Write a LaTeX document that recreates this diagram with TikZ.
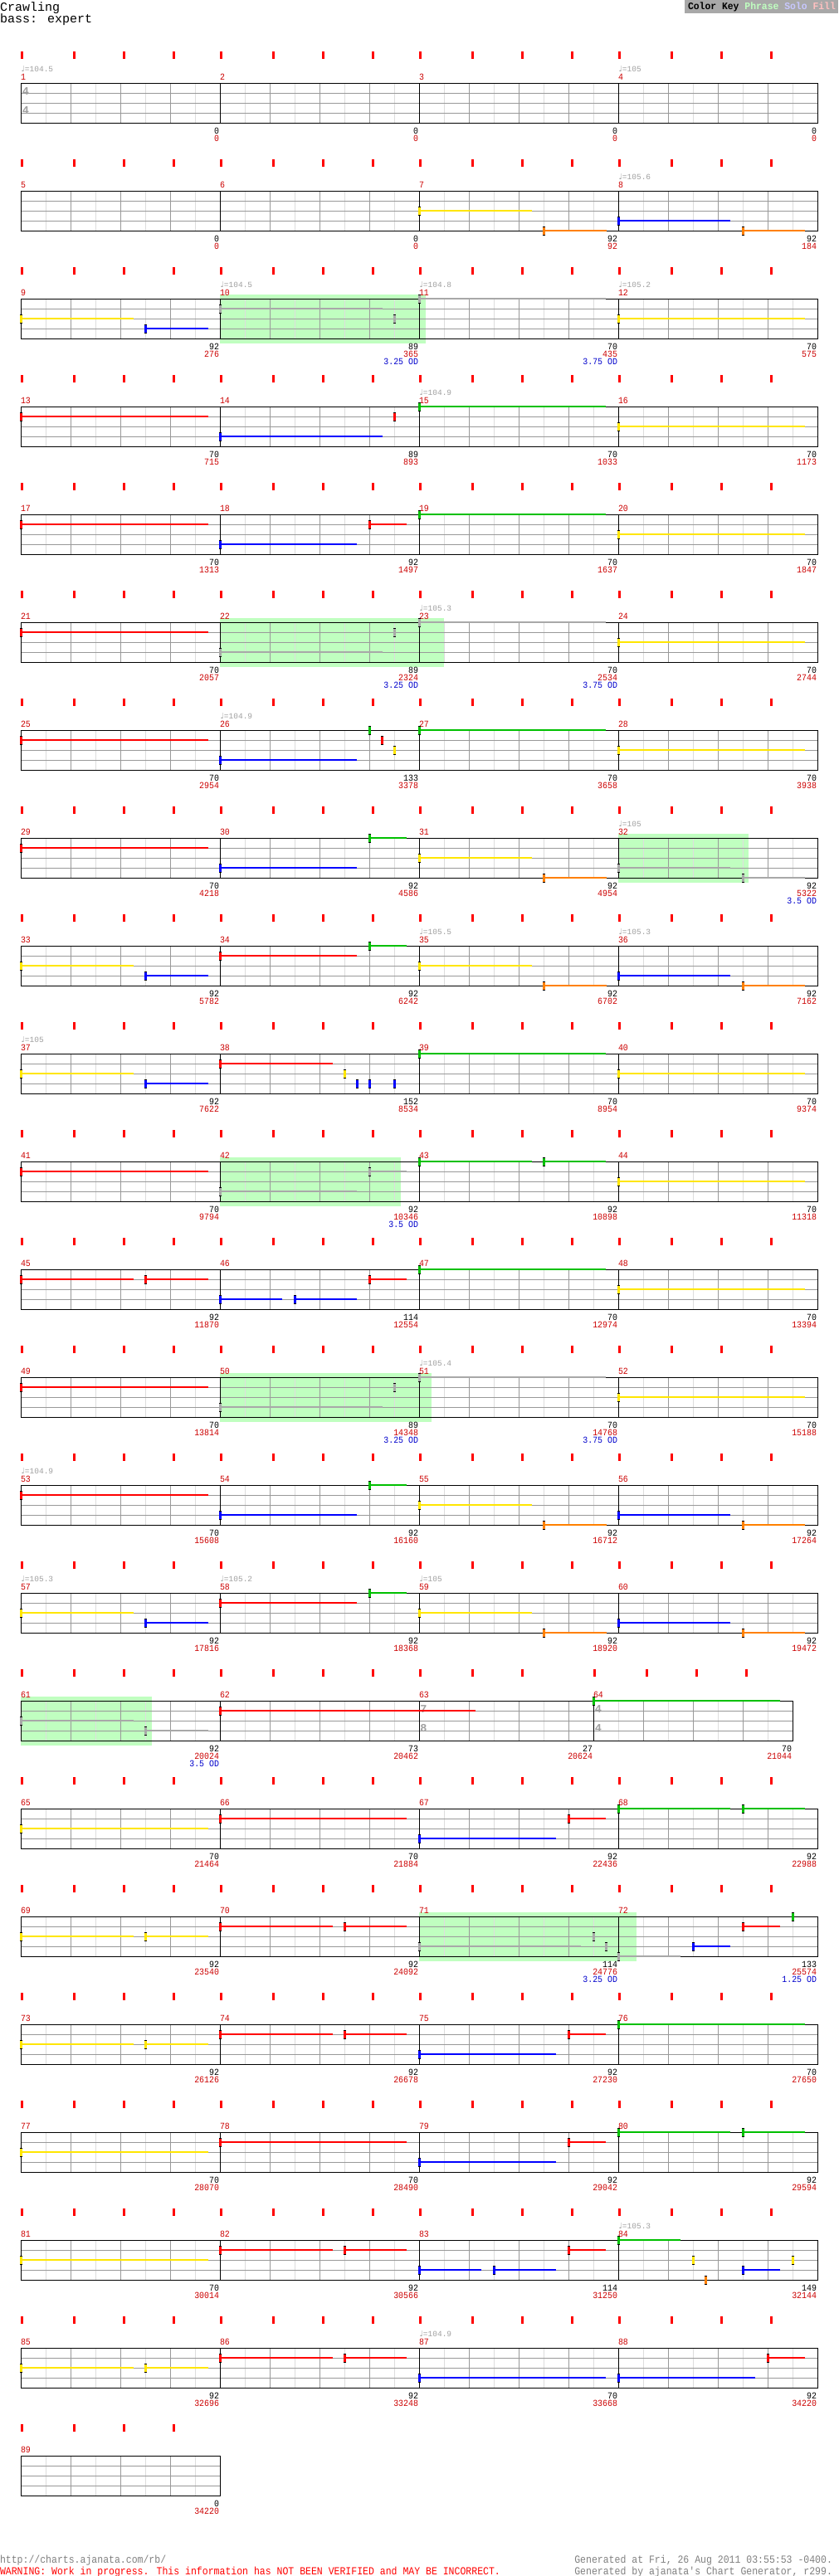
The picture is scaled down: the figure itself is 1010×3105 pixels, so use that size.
\documentclass[tikz,border=0pt]{standalone}
\usepackage{fontspec}
\setmainfont{Liberation Mono}
\newfontfamily\numfont[FakeStretch=0.9]{Liberation Mono}
\newfontfamily\tmpfont{Liberation Mono}
\newfontfamily\symfont{DejaVu Sans}
\newfontfamily\keyfont[FakeStretch=0.95]{Liberation Mono}
\newfontfamily\footfont[FakeStretch=0.885]{Liberation Mono}
\definecolor{tickred}{RGB}{255,0,0}
\definecolor{txtred}{RGB}{204,0,0}
\definecolor{txtblue}{RGB}{0,0,204}
\definecolor{tmpgrey}{RGB}{160,160,160}
\definecolor{gridmid}{RGB}{153,153,153}
\definecolor{gridlight}{RGB}{221,221,221}
\definecolor{phrasebg}{RGB}{192,255,192}
\definecolor{nG}{RGB}{0,192,0}
\definecolor{nR}{RGB}{255,0,0}
\definecolor{nY}{RGB}{255,230,0}
\definecolor{nB}{RGB}{0,0,255}
\definecolor{nO}{RGB}{255,128,0}
\definecolor{nS}{RGB}{168,168,168}
\definecolor{keybg}{RGB}{168,168,168}
\definecolor{keyph}{RGB}{192,255,192}
\definecolor{keysolo}{RGB}{200,200,255}
\definecolor{keyfill}{RGB}{255,192,192}
\definecolor{footgrey}{RGB}{128,128,128}
\tikzset{
  gl/.style={draw=gridlight,line width=1pt},
  gm/.style={draw=gridmid,line width=1pt},
  bd/.style={draw=black,line width=1pt},
  mnum/.style={anchor=base west,text=txtred,font=\numfont\fontsize{11}{11}\selectfont},
  bnum/.style={anchor=base east,text=black,font=\numfont\fontsize{11}{11}\selectfont},
  rnum/.style={anchor=base east,text=txtred,font=\numfont\fontsize{11}{11}\selectfont},
  onum/.style={anchor=base east,text=txtblue,font=\numfont\fontsize{11}{11}\selectfont},
  tempo/.style={anchor=base west,text=tmpgrey,font=\tmpfont\fontsize{9.5}{9.5}\selectfont},
  tsig/.style={text=tmpgrey,font=\tmpfont\bfseries\fontsize{13.5}{13.5}\selectfont},
  foot/.style={font=\footfont\fontsize{13}{13}\selectfont},
}
\newcommand\mgrid[2]{%
  \foreach \gq in {30,90,150,210}{\draw[gl] (#1+\gq,#2) -- (#1+\gq,#2+48);}
  \foreach \gq in {60,120,180}{\draw[gm] (#1+\gq,#2) -- (#1+\gq,#2+48);}
  \foreach \gq in {12,24,36}{\draw[gm] (#1,#2+\gq) -- (#1+240,#2+\gq);}
  \draw[bd] (#1,#2) rectangle (#1+240,#2+48);
}
\newcommand\mtick[2]{%
  \foreach \gq in {0,63,123,183}{\fill[tickred] (#1+\gq,#2-38) rectangle (#1+\gq+2.5,#2-29.5);}
}
\newcommand\nt[6]{%
  \pgfmathsetmacro\nx{25+240*#2+#3}%
  \pgfmathsetmacro\ny{100+130*#1+12*#5}%
  \pgfmathsetmacro\ne{25+240*#2+#4}%
  \draw[line width=2.6pt,#6] (\nx,\ny) -- (\ne,\ny);%
  \fill[black] (\nx-1,\ny-5.5) rectangle (\nx+2,\ny+5.5);%
  \fill[#6] (\nx-1,\ny-4.5) rectangle (\nx+2,\ny+4.5);%
}
\newcommand\hd[5]{%
  \pgfmathsetmacro\nx{25+240*#2+#3}%
  \pgfmathsetmacro\ny{100+130*#1+12*#4}%
  \fill[black] (\nx-1,\ny-5.5) rectangle (\nx+2,\ny+5.5);%
  \fill[#5] (\nx-1,\ny-4.5) rectangle (\nx+2,\ny+4.5);%
}
\begin{document}
\begin{tikzpicture}[x=1pt,y=-1pt,every node/.style={inner sep=0pt,outer sep=0pt}]
\fill[white] (0,0) rectangle (1010,3105);
\useasboundingbox (0,0) rectangle (1010,3105);
% title and key
\node[anchor=base west,font=\fontsize{15}{15}\selectfont] (title) at (0,13.3) {Crawling};
\node[anchor=base west,font=\fontsize{15}{15}\selectfont] (inst) at (0,27.7) {bass: expert};
\fill[keybg] (825,0) rectangle (1010,15.7);
\node[anchor=base west,font=\keyfont\bfseries\fontsize{12}{12}\selectfont] (key) at (829,11) {Color Key \textcolor{keyph}{Phrase} \textcolor{keysolo}{Solo} \textcolor{keyfill}{Fill}};
% phrase backgrounds
\fill[phrasebg] (265,355) rectangle (513,414);
\fill[phrasebg] (265,745) rectangle (535,804);
\fill[phrasebg] (745,1005) rectangle (902,1064);
\fill[phrasebg] (265,1395) rectangle (483,1454);
\fill[phrasebg] (265,1655) rectangle (520,1714);
\fill[phrasebg] (25,2045) rectangle (183,2104);
\fill[phrasebg] (505,2305) rectangle (767,2364);
% standard measures
\foreach \m/\bv/\cv in {1/0/0,2/0/0,3/0/0,4/0/0,5/0/0,6/0/0,7/92/92,8/92/184,9/92/276,10/89/365,11/70/435,12/70/575,13/70/715,14/89/893,15/70/1033,16/70/1173,17/70/1313,18/92/1497,19/70/1637,20/70/1847,21/70/2057,22/89/2324,23/70/2534,24/70/2744,25/70/2954,26/133/3378,27/70/3658,28/70/3938,29/70/4218,30/92/4586,31/92/4954,32/92/5322,33/92/5782,34/92/6242,35/92/6702,36/92/7162,37/92/7622,38/152/8534,39/70/8954,40/70/9374,41/70/9794,42/92/10346,43/92/10898,44/70/11318,45/92/11870,46/114/12554,47/70/12974,48/70/13394,49/70/13814,50/89/14348,51/70/14768,52/70/15188,53/70/15608,54/92/16160,55/92/16712,56/92/17264,57/92/17816,58/92/18368,59/92/18920,60/92/19472,61/92/20024,62/73/20462,65/70/21464,66/70/21884,67/92/22436,68/92/22988,69/92/23540,70/92/24092,71/114/24776,72/133/25574,73/92/26126,74/92/26678,75/92/27230,76/70/27650,77/70/28070,78/70/28490,79/92/29042,80/92/29594,81/70/30014,82/92/30566,83/114/31250,84/149/32144,85/92/32696,86/92/33248,87/70/33668,88/92/34220,89/0/34220}{
  \pgfmathtruncatemacro\mrow{(\m-1)/4}
  \pgfmathtruncatemacro\mcol{mod(\m-1,4)}
  \pgfmathsetmacro\mtop{100+130*\mrow}
  \pgfmathsetmacro\mx{25+240*\mcol}
  \mgrid{\mx}{\mtop}
  \mtick{\mx}{\mtop}
  \node[mnum] (mn\m) at (\mx,\mtop-3.3) {\m};
  \node[bnum] (bn\m) at (\mx+239,\mtop+61) {\bv};
  \node[rnum] (rn\m) at (\mx+239,\mtop+70) {\cv};
}
% measure 63 (7/8) and 64
\foreach \gq in {30,90,150}{\draw[gl] (505+\gq,2050) -- (505+\gq,2098);}
\foreach \gq in {60,120,180}{\draw[gm] (505+\gq,2050) -- (505+\gq,2098);}
\foreach \gq in {12,24,36}{\draw[gm] (505,2050+\gq) -- (715,2050+\gq);}
\draw[bd] (505,2050) rectangle (715,2098);
\foreach \gq in {0,63,123}{\fill[tickred] (505+\gq,2012) rectangle (507.5+\gq,2020.5);}
\mgrid{715}{2050}
\mtick{715}{2050}
\node[mnum] (mn63) at (505,2046.7) {63};
\node[bnum] (bn63) at (714,2111) {27};
\node[rnum] (rn63) at (714,2120) {20624};
\node[mnum] (mn64) at (715,2046.7) {64};
\node[bnum] (bn64) at (954,2111) {70};
\node[rnum] (rn64) at (954,2120) {21044};
% time signatures
\node[tsig] (ts1a) at (31,110) {4};
\node[tsig] (ts1b) at (31,133.5) {4};
\node[tsig] (ts63a) at (510.5,2060) {7};
\node[tsig] (ts63b) at (510.5,2083.5) {8};
\node[tsig] (ts64a) at (721,2060) {4};
\node[tsig] (ts64b) at (721,2083.5) {4};
% overdrive labels
\foreach \m/\odv in {10/3.25,11/3.75,22/3.25,23/3.75,32/3.5,42/3.5,50/3.25,51/3.75,61/3.5,71/3.25,72/1.25}{
  \pgfmathtruncatemacro\mrow{(\m-1)/4}
  \pgfmathtruncatemacro\mcol{mod(\m-1,4)}
  \pgfmathsetmacro\mtop{100+130*\mrow}
  \pgfmathsetmacro\mx{25+240*\mcol}
  \node[onum] (od\m) at (\mx+239,\mtop+79) {\odv{} OD};
}
% tempo labels
\foreach \m/\tv in {1/104.5,4/105,8/105.6,10/104.5,11/104.8,12/105.2,15/104.9,23/105.3,26/104.9,32/105,35/105.5,36/105.3,37/105,51/105.4,53/104.9,57/105.3,58/105.2,59/105,84/105.3,87/104.9}{
  \pgfmathtruncatemacro\mrow{(\m-1)/4}
  \pgfmathtruncatemacro\mcol{mod(\m-1,4)}
  \pgfmathsetmacro\mtop{100+130*\mrow}
  \pgfmathsetmacro\mx{25+240*\mcol}
  \node[tempo] (tp\m) at (\mx+0.5,\mtop-14) {{\symfont ♩}=\tv};
}
% notes
\nt{1}{2}{0}{136}{2}{nY}
\nt{1}{2}{150}{226}{4}{nO}
\nt{1}{3}{0}{135}{3}{nB}
\nt{1}{3}{150}{225}{4}{nO}
\nt{2}{0}{0}{136}{2}{nY}
\nt{2}{0}{150}{226}{3}{nB}
\nt{2}{1}{0}{196}{1}{nS}
\hd{2}{1}{210}{2}{nS}
\nt{2}{2}{0}{225}{0}{nS}
\nt{2}{3}{0}{225}{2}{nY}
\nt{3}{0}{0}{226}{1}{nR}
\nt{3}{1}{0}{196}{3}{nB}
\hd{3}{1}{210}{1}{nR}
\nt{3}{2}{0}{225}{0}{nG}
\nt{3}{3}{0}{225}{2}{nY}
\nt{4}{0}{0}{226}{1}{nR}
\nt{4}{1}{0}{165}{3}{nB}
\nt{4}{1}{180}{225}{1}{nR}
\nt{4}{2}{0}{225}{0}{nG}
\nt{4}{3}{0}{225}{2}{nY}
\nt{5}{0}{0}{226}{1}{nR}
\nt{5}{1}{0}{196}{3}{nS}
\hd{5}{1}{210}{1}{nS}
\nt{5}{2}{0}{225}{0}{nS}
\nt{5}{3}{0}{225}{2}{nY}
\nt{6}{0}{0}{226}{1}{nR}
\nt{6}{1}{0}{165}{3}{nB}
\hd{6}{1}{180}{0}{nG}
\hd{6}{1}{195}{1}{nR}
\hd{6}{1}{210}{2}{nY}
\nt{6}{2}{0}{225}{0}{nG}
\nt{6}{3}{0}{225}{2}{nY}
\nt{7}{0}{0}{226}{1}{nR}
\nt{7}{1}{0}{165}{3}{nB}
\nt{7}{1}{180}{225}{0}{nG}
\nt{7}{2}{0}{136}{2}{nY}
\nt{7}{2}{150}{226}{4}{nO}
\nt{7}{3}{0}{135}{3}{nS}
\nt{7}{3}{150}{225}{4}{nS}
\nt{8}{0}{0}{136}{2}{nY}
\nt{8}{0}{150}{226}{3}{nB}
\nt{8}{1}{0}{165}{1}{nR}
\nt{8}{1}{180}{225}{0}{nG}
\nt{8}{2}{0}{136}{2}{nY}
\nt{8}{2}{150}{226}{4}{nO}
\nt{8}{3}{0}{135}{3}{nB}
\nt{8}{3}{150}{225}{4}{nO}
\nt{9}{0}{0}{136}{2}{nY}
\nt{9}{0}{150}{226}{3}{nB}
\nt{9}{1}{0}{136}{1}{nR}
\hd{9}{1}{150}{2}{nY}
\hd{9}{1}{165}{3}{nB}
\hd{9}{1}{180}{3}{nB}
\hd{9}{1}{210}{3}{nB}
\nt{9}{2}{0}{225}{0}{nG}
\nt{9}{3}{0}{225}{2}{nY}
\nt{10}{0}{0}{226}{1}{nR}
\nt{10}{1}{0}{165}{3}{nS}
\nt{10}{1}{180}{225}{1}{nS}
\nt{10}{2}{0}{136}{0}{nG}
\nt{10}{2}{150}{225}{0}{nG}
\nt{10}{3}{0}{225}{2}{nY}
\nt{11}{0}{0}{136}{1}{nR}
\nt{11}{0}{150}{226}{1}{nR}
\nt{11}{1}{0}{75}{3}{nB}
\nt{11}{1}{90}{165}{3}{nB}
\nt{11}{1}{180}{225}{1}{nR}
\nt{11}{2}{0}{225}{0}{nG}
\nt{11}{3}{0}{225}{2}{nY}
\nt{12}{0}{0}{226}{1}{nR}
\nt{12}{1}{0}{196}{3}{nS}
\hd{12}{1}{210}{1}{nS}
\nt{12}{2}{0}{225}{0}{nS}
\nt{12}{3}{0}{225}{2}{nY}
\nt{13}{0}{0}{226}{1}{nR}
\nt{13}{1}{0}{165}{3}{nB}
\nt{13}{1}{180}{225}{0}{nG}
\nt{13}{2}{0}{136}{2}{nY}
\nt{13}{2}{150}{226}{4}{nO}
\nt{13}{3}{0}{135}{3}{nB}
\nt{13}{3}{150}{225}{4}{nO}
\nt{14}{0}{0}{136}{2}{nY}
\nt{14}{0}{150}{226}{3}{nB}
\nt{14}{1}{0}{165}{1}{nR}
\nt{14}{1}{180}{225}{0}{nG}
\nt{14}{2}{0}{136}{2}{nY}
\nt{14}{2}{150}{226}{4}{nO}
\nt{14}{3}{0}{135}{3}{nB}
\nt{14}{3}{150}{225}{4}{nO}
\nt{15}{0}{0}{136}{2}{nS}
\nt{15}{0}{150}{226}{3}{nS}
\nt{15}{1}{0}{307.5}{1}{nR}
\nt{15}{2.875}{0}{225}{0}{nG}
\nt{16}{0}{0}{226}{2}{nY}
\nt{16}{1}{0}{225}{1}{nR}
\nt{16}{2}{0}{165}{3}{nB}
\nt{16}{2}{180}{225}{1}{nR}
\nt{16}{3}{0}{135}{0}{nG}
\nt{16}{3}{150}{225}{0}{nG}
\nt{17}{0}{0}{136}{2}{nY}
\nt{17}{0}{150}{226}{2}{nY}
\nt{17}{1}{0}{136}{1}{nR}
\nt{17}{1}{150}{225}{1}{nR}
\nt{17}{2}{0}{195}{3}{nS}
\hd{17}{2}{210}{2}{nS}
\hd{17}{2}{225}{3}{nS}
\nt{17}{3}{0}{75}{4}{nS}
\nt{17}{3}{90}{135}{3}{nB}
\nt{17}{3}{150}{195}{1}{nR}
\hd{17}{3}{210}{0}{nG}
\nt{18}{0}{0}{136}{2}{nY}
\nt{18}{0}{150}{226}{2}{nY}
\nt{18}{1}{0}{136}{1}{nR}
\nt{18}{1}{150}{225}{1}{nR}
\nt{18}{2}{0}{165}{3}{nB}
\nt{18}{2}{180}{225}{1}{nR}
\nt{18}{3}{0}{225}{0}{nG}
\nt{19}{0}{0}{226}{2}{nY}
\nt{19}{1}{0}{225}{1}{nR}
\nt{19}{2}{0}{165}{3}{nB}
\nt{19}{2}{180}{225}{1}{nR}
\nt{19}{3}{0}{135}{0}{nG}
\nt{19}{3}{150}{225}{0}{nG}
\nt{20}{0}{0}{226}{2}{nY}
\nt{20}{1}{0}{136}{1}{nR}
\nt{20}{1}{150}{225}{1}{nR}
\nt{20}{2}{0}{75}{3}{nB}
\nt{20}{2}{90}{165}{3}{nB}
\nt{20}{2}{180}{225}{1}{nR}
\nt{20}{3}{0}{75}{0}{nG}
\hd{20}{3}{90}{2}{nY}
\hd{20}{3}{105}{4}{nO}
\nt{20}{3}{150}{195}{3}{nB}
\hd{20}{3}{210}{2}{nY}
\nt{21}{0}{0}{136}{2}{nY}
\nt{21}{0}{150}{226}{2}{nY}
\nt{21}{1}{0}{136}{1}{nR}
\nt{21}{1}{150}{225}{1}{nR}
\nt{21}{2}{0}{225}{3}{nB}
\nt{21}{3}{0}{165}{3}{nB}
\nt{21}{3}{180}{225}{1}{nR}
% footer
\node[foot,anchor=base west,text=footgrey] (url) at (0,3089) {http://charts.ajanata.com/rb/};
\node[foot,anchor=base west,text=red] (warn) at (0,3103.5) {WARNING: Work in progress. This information has NOT BEEN VERIFIED and MAY BE INCORRECT.};
\node[foot,anchor=base east,text=footgrey] (gen1) at (1003,3089) {Generated at Fri, 26 Aug 2011 03:55:53 -0400.};
\node[foot,anchor=base east,text=footgrey] (gen2) at (1003,3103.5) {Generated by ajanata's Chart Generator, r299.};
\end{tikzpicture}
\end{document}
